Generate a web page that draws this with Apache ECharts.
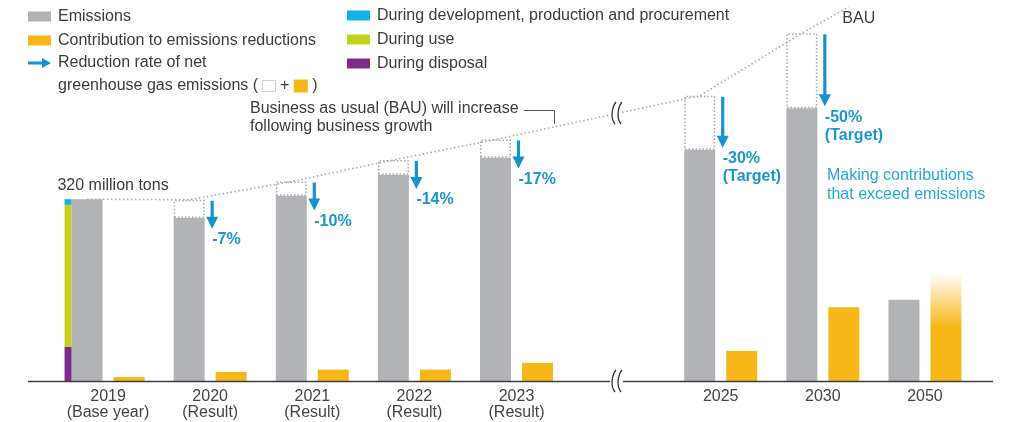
<!DOCTYPE html>
<html><head><meta charset="utf-8">
<script src="https://cdn.jsdelivr.net/npm/echarts@6/dist/echarts.min.js"></script>
<style>html,body{margin:0;padding:0;background:#fff}#c{width:1013px;height:422px}</style>
</head><body><div id="c"></div>
<script>
// ---- data ----
const categories = ['2019', '2020', '2021', '2022', '2023', '', '2025', '2030', '2050'];
const subLabels = ['(Base year)', '(Result)', '(Result)', '(Result)', '(Result)', '', '', '', ''];
const emissions = [320, 287, 326, 363, 393, null, 407, 480, 143];
const bau = [320, 319, 351, 389, 425, null, 502, 612, null];
const contributions = [7, 16, 20, 20, 32, null, 53, 130, 187];
const duringDevelopment = [10, null, null, null, null, null, null, null, null];
const duringUse = [250, null, null, null, null, null, null, null, null];
const duringDisposal = [60, null, null, null, null, null, null, null, null];
const reductionLabels = ['', '-7%', '-10%', '-14%', '-17%', '', '-30%\n(Target)', '-50%\n(Target)', ''];
const bauLineEnd = [7.25, 658];
const baseUnit = 'million tons';

// ---- names ----
const N_EM = 'Emissions';
const N_CO = 'Contribution to emissions reductions';
const N_AR = 'Reduction rate of net greenhouse gas emissions';
const N_DEV = 'During development, production and procurement';
const N_USE = 'During use';
const N_DIS = 'During disposal';

// ---- style ----
const FONT = 'Liberation Sans';
const TXT = '#3c3c3c';
const GRAY = '#b2b3b6';
const ORANGE = '#f7b718';
const BLUE = '#1592d2';
const GRID = {left: 57, right: 37, top: 6, bottom: 41};
const W = 1013;
const BAR_W = 31, BAR_GAP = 11;
const spacing = (W - GRID.left - GRID.right) / categories.length;
const barOffset = -(BAR_W + BAR_GAP) / 2 / spacing;

const chart = echarts.init(document.getElementById('c'));

const emData = emissions.map((v, i) => i === 0 ? {
  value: v,
  label: {show: true, position: 'top', distance: 6, offset: [26, 0],
    formatter: v + ' ' + baseUnit, fontSize: 16, color: TXT, fontFamily: FONT}
} : v);
const boxData = bau.map((v, i) => (v != null && emissions[i] != null && v - emissions[i] > 0) ? v - emissions[i] : null);
const coData = contributions.map((v, i) => i === categories.length - 1 ? {
  value: v,
  itemStyle: {color: new echarts.graphic.LinearGradient(0, 0, 0, 1, [
    {offset: 0, color: 'rgba(247,183,24,0.03)'},
    {offset: 0.49, color: ORANGE},
    {offset: 1, color: ORANGE}
  ])}
} : v);
const bauLine = bau.map((v, i) => v == null ? null : [i + barOffset, v]).filter(p => p);
bauLine.push(bauLineEnd);
const arrowData = reductionLabels.map((l, i) => l ? [i, bau[i], emissions[i]] : null).filter(p => p);

function breakSymbol(x, y) {
  const st = {stroke: '#333', lineWidth: 1.3, fill: null};
  return {
    type: 'group', x: x, y: y, z: 100,
    children: [
      {type: 'rect', z: 100, shape: {x: -6, y: -12, width: 12, height: 24}, style: {fill: '#fff'}},
      {type: 'bezierCurve', z: 101, shape: {x1: 0, y1: -11, cpx1: -4, cpy1: -6, cpx2: -6, cpy2: 5, x2: -1, y2: 11}, style: st},
      {type: 'bezierCurve', z: 101, shape: {x1: 6, y1: -11, cpx1: 2, cpy1: -6, cpx2: 0, cpy2: 5, x2: 5, y2: 11}, style: st}
    ]
  };
}

const legendBase = {
  orient: 'vertical', padding: 0, itemGap: 1, itemWidth: 23, itemHeight: 10,
  selectedMode: false, icon: 'rect',
  textStyle: {fontSize: 16, color: TXT, fontFamily: FONT, lineHeight: 23, padding: [0, 0, 0, 2]}
};

chart.setOption({
  animation: false,
  textStyle: {fontFamily: FONT},
  grid: GRID,
  legend: [
    Object.assign({}, legendBase, {left: 28, top: 5, data: [N_EM, N_CO]}),
    Object.assign({}, legendBase, {
      left: 28, top: 28.5,
      data: [{name: N_AR, icon: 'path://M0,3.5L14,3.5L14,0L23,5L14,10L14,6.5L0,6.5Z'}],
      formatter: () => 'Reduction rate of net\ngreenhouse gas emissions ( {box| } + {sq| } )',
      textStyle: {fontSize: 16, color: TXT, fontFamily: FONT, lineHeight: 23, padding: [23, 0, 0, 2],
        rich: {
          box: {width: 13, height: 11, borderColor: '#a8a9ac', borderWidth: 1, borderType: 'dotted'},
          sq: {width: 14, height: 13, backgroundColor: ORANGE}
        }}
    }),
    Object.assign({}, legendBase, {left: 347, top: 4, data: [N_DEV, N_USE, N_DIS]})
  ],
  xAxis: [
    {type: 'category', data: categories, gridIndex: 0,
      axisLine: {show: false}, axisTick: {show: false}, splitLine: {show: false},
      axisLabel: {interval: 0, margin: 8, fontSize: 16, lineHeight: 16, color: '#444', fontFamily: FONT,
        formatter: (v, i) => subLabels[i] ? v + '\n' + subLabels[i] : v}},
    {type: 'value', min: -0.5, max: categories.length - 0.5, show: false, gridIndex: 0},
    {type: 'category', data: categories, show: false, gridIndex: 0}
  ],
  yAxis: {type: 'value', min: 0, max: 660, show: false},
  series: [
    {name: N_EM, type: 'bar', xAxisIndex: 0, stack: 'em', barWidth: BAR_W, barGap: (BAR_GAP / BAR_W * 100) + '%',
      itemStyle: {color: GRAY}, data: emData, emphasis: {disabled: true}},
    {name: 'BAU', type: 'bar', xAxisIndex: 0, stack: 'em', barWidth: BAR_W, barGap: (BAR_GAP / BAR_W * 100) + '%',
      itemStyle: {color: 'rgba(255,255,255,0)', borderColor: '#a8a9ac', borderWidth: 1.5, borderType: [1.5, 2]},
      data: boxData, emphasis: {disabled: true}},
    {name: N_CO, type: 'bar', xAxisIndex: 0, barWidth: BAR_W, barGap: (BAR_GAP / BAR_W * 100) + '%',
      itemStyle: {color: ORANGE}, data: coData, emphasis: {disabled: true}},
    {name: N_DIS, type: 'bar', xAxisIndex: 2, stack: 'bd', barWidth: 7, barGap: '0%',
      itemStyle: {color: '#7e2b8e'}, data: duringDisposal, emphasis: {disabled: true}},
    {name: N_USE, type: 'bar', xAxisIndex: 2, stack: 'bd', barWidth: 7, barGap: '0%',
      itemStyle: {color: '#c5cf1f'}, data: duringUse, emphasis: {disabled: true}},
    {name: N_DEV, type: 'bar', xAxisIndex: 2, stack: 'bd', barWidth: 7, barGap: '0%',
      itemStyle: {color: '#12b2e8'}, data: duringDevelopment, emphasis: {disabled: true}},
    {name: 'spacer', type: 'bar', xAxisIndex: 2, barWidth: 80, barGap: '0%',
      data: categories.map(() => null), silent: true},
    {name: 'BAU line', type: 'line', xAxisIndex: 1, data: bauLine, symbol: 'none', z: 3,
      lineStyle: {color: '#a9aaad', width: 1.6, type: [1.5, 2.5]},
      endLabel: {show: true, formatter: 'BAU', fontSize: 16, color: TXT, fontFamily: FONT, distance: 5, offset: [-11, 11]},
      emphasis: {disabled: true}, silent: true},
    {name: N_AR, type: 'custom', xAxisIndex: 0, itemStyle: {color: BLUE}, z: 5, data: arrowData,
      renderItem: function (params, api) {
        const i = api.value(0);
        const a = api.coord([i, api.value(1)]);
        const b = api.coord([i, api.value(2)]);
        const x = a[0] + 2;
        const y1 = a[1] + 1;
        const tip = Math.max(b[1] - 2, y1 + 28);
        return {type: 'group', children: [
          {type: 'rect', shape: {x: x - 1.6, y: y1, width: 3.2, height: tip - y1 - 10}, style: {fill: BLUE}},
          {type: 'polygon', shape: {points: [[x - 6, tip - 12], [x + 6, tip - 12], [x, tip]]}, style: {fill: BLUE}},
          {type: 'text', x: x, y: tip + 2, style: {text: reductionLabels[i], fill: '#1a96d4',
            font: 'bold 16px "' + FONT + '"', lineHeight: 18, verticalAlign: 'top', align: 'left'}}
        ]};
      }}
  ],
  graphic: [
    {type: 'line', shape: {x1: 28, y1: 381.5, x2: 612, y2: 381.5}, style: {stroke: '#3c3c3c', lineWidth: 1.3}, z: 50},
    {type: 'line', shape: {x1: 623, y1: 381.5, x2: 993, y2: 381.5}, style: {stroke: '#3c3c3c', lineWidth: 1.3}, z: 50},
    breakSymbol(616, 113),
    breakSymbol(616, 381),
    {type: 'text', x: 250, y: 100, z: 50, style: {text: 'Business as usual (BAU) will increase\nfollowing business growth',
      font: '16px "' + FONT + '"', fill: TXT, lineHeight: 18, verticalAlign: 'top', align: 'left'}},
    {type: 'polyline', z: 50, shape: {points: [[524, 110.5], [554.5, 110.5], [554.5, 124]]}, style: {stroke: '#555', lineWidth: 1, fill: null}},
    {type: 'text', x: 827, y: 166.5, z: 50, style: {text: 'Making contributions\nthat exceed emissions',
      font: '16px "' + FONT + '"', fill: '#25a6e1', lineHeight: 19, verticalAlign: 'top', align: 'left'}}
  ]
});
</script></body></html>
